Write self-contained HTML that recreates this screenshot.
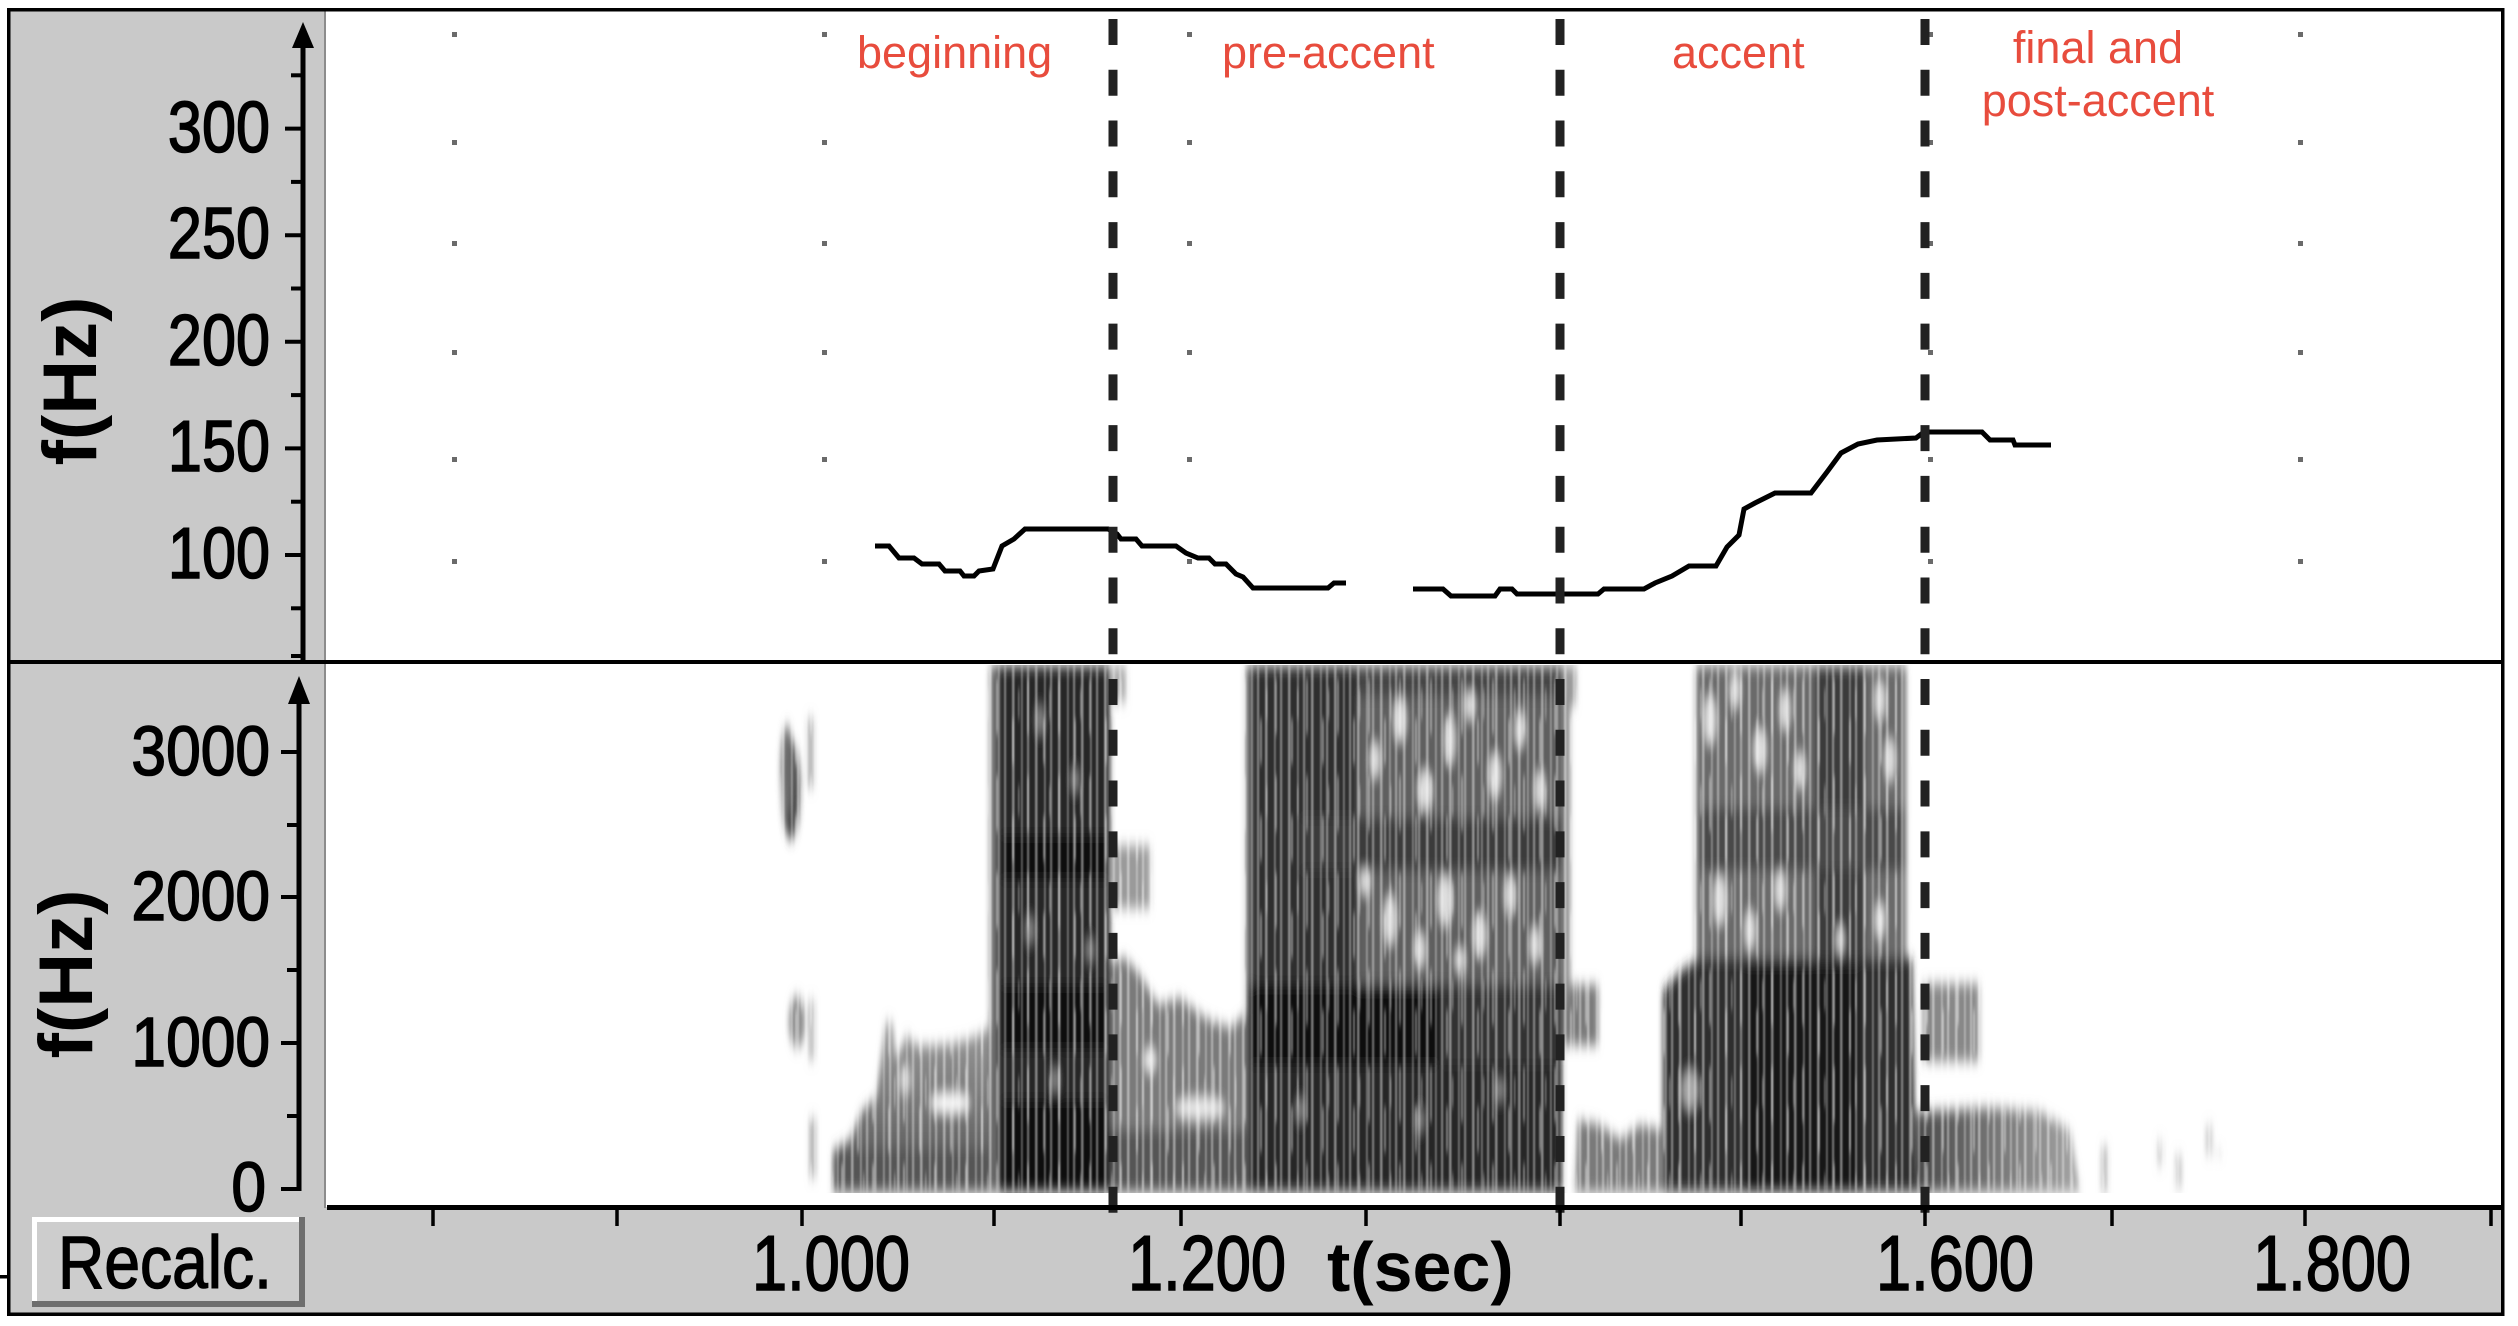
<!DOCTYPE html>
<html>
<head>
<meta charset="utf-8">
<style>
html,body{margin:0;padding:0;background:#fff;}
svg{display:block;}
text{font-family:"Liberation Sans",Arial,sans-serif;}
</style>
</head>
<body>
<svg width="2518" height="1326" viewBox="0 0 2518 1326" xmlns="http://www.w3.org/2000/svg">
<defs>
  <filter id="sb" x="-5%" y="-5%" width="110%" height="110%">
    <feGaussianBlur stdDeviation="3 7"/>
  </filter>
  <filter id="sb2" x="-5%" y="-5%" width="110%" height="110%">
    <feGaussianBlur stdDeviation="0.9 4"/>
  </filter>
  <pattern id="p1" width="23" height="120" patternUnits="userSpaceOnUse">
    <rect x="0" y="0" width="2.5" height="120" fill="#fff" fill-opacity="0.45"/>
    <rect x="9" y="0" width="1.8" height="120" fill="#fff" fill-opacity="0.35"/>
    <rect x="15" y="0" width="2.2" height="120" fill="#fff" fill-opacity="0.4"/>
  </pattern>
  <pattern id="p2" width="31" height="97" patternUnits="userSpaceOnUse">
    <rect x="4" y="0" width="2" height="55" fill="#fff" fill-opacity="0.4"/>
    <rect x="20" y="40" width="2" height="45" fill="#fff" fill-opacity="0.4"/>
    <rect x="26" y="10" width="1.5" height="30" fill="#fff" fill-opacity="0.35"/>
  </pattern>
  <linearGradient id="tailg" x1="0" y1="0" x2="1" y2="0">
    <stop offset="0" stop-color="#4a4a4a"/>
    <stop offset="1" stop-color="#a5a5a5"/>
  </linearGradient>
  <linearGradient id="lowg" x1="0" y1="0" x2="0" y2="1">
    <stop offset="0" stop-color="#9a9a9a"/>
    <stop offset="0.5" stop-color="#777"/>
    <stop offset="1" stop-color="#505050"/>
  </linearGradient>
  <clipPath id="specclip"><rect x="327" y="665" width="2175" height="528"/></clipPath>
</defs>

<!-- background panels -->
<rect x="0" y="0" width="2518" height="1326" fill="#fff"/>
<rect x="8" y="10" width="317" height="1199" fill="#c9c9c9"/>
<rect x="8" y="1207" width="2495" height="108" fill="#c9c9c9"/>
<rect x="324" y="10" width="2" height="1198" fill="#8c8c8c"/>

<!-- grid dots top panel -->
<g fill="#6a6a6a">
  <rect x="452" y="32" width="5" height="5"/><rect x="452" y="140" width="5" height="5"/><rect x="452" y="241" width="5" height="5"/><rect x="452" y="350" width="5" height="5"/><rect x="452" y="457" width="5" height="5"/><rect x="452" y="559" width="5" height="5"/>
  <rect x="822" y="32" width="5" height="5"/><rect x="822" y="140" width="5" height="5"/><rect x="822" y="241" width="5" height="5"/><rect x="822" y="350" width="5" height="5"/><rect x="822" y="457" width="5" height="5"/><rect x="822" y="559" width="5" height="5"/>
  <rect x="1187" y="32" width="5" height="5"/><rect x="1187" y="140" width="5" height="5"/><rect x="1187" y="241" width="5" height="5"/><rect x="1187" y="350" width="5" height="5"/><rect x="1187" y="457" width="5" height="5"/><rect x="1187" y="559" width="5" height="5"/>
  <rect x="1928" y="32" width="5" height="5"/><rect x="1928" y="140" width="5" height="5"/><rect x="1928" y="241" width="5" height="5"/><rect x="1928" y="350" width="5" height="5"/><rect x="1928" y="457" width="5" height="5"/><rect x="1928" y="559" width="5" height="5"/>
  <rect x="2298" y="32" width="5" height="5"/><rect x="2298" y="140" width="5" height="5"/><rect x="2298" y="241" width="5" height="5"/><rect x="2298" y="350" width="5" height="5"/><rect x="2298" y="457" width="5" height="5"/><rect x="2298" y="559" width="5" height="5"/>
</g>

<!-- spectrogram -->
<g clip-path="url(#specclip)">
<g filter="url(#sb)">
  <!-- early blobs -->
  <ellipse cx="791" cy="790" rx="9" ry="50" fill="#4a4a4a"/>
  <ellipse cx="787" cy="770" rx="6" ry="45" fill="#6a6a6a"/>
  <rect x="808" y="718" width="5" height="70" fill="#999"/>
  <ellipse cx="797" cy="1022" rx="8" ry="26" fill="#8a8a8a"/>
  <rect x="809" y="1000" width="5" height="60" fill="#aaa"/>
  <rect x="810" y="1118" width="5" height="60" fill="#999"/>
  <!-- low region -->
  <polygon points="833,1192 834,1150 850,1140 862,1110 876,1098 886,1022 892,1022 896,1060 907,1035 915,1045 930,1046 950,1044 968,1040 983,1033 997,1020 997,1192" fill="url(#lowg)"/>
  <rect x="833" y="1150" width="164" height="42" fill="#555"/>
  <ellipse cx="950" cy="1103" rx="20" ry="9" fill="#fff"/>
  <ellipse cx="905" cy="1080" rx="6" ry="14" fill="#fff" fill-opacity="0.6"/>
  <!-- block A -->
  <rect x="990" y="666" width="10" height="526" fill="#6a6a6a"/>
  <rect x="998" y="666" width="112" height="526" fill="#262626"/>
  <rect x="1000" y="835" width="108" height="45" fill="#0e0e0e"/>
  <rect x="1000" y="985" width="108" height="65" fill="#0a0a0a"/>
  <rect x="1000" y="1100" width="108" height="92" fill="#111"/>
  <g fill="#fff" fill-opacity="0.45">
    <ellipse cx="1040" cy="720" rx="4" ry="15"/>
    <ellipse cx="1075" cy="780" rx="4" ry="12"/>
    <ellipse cx="1030" cy="930" rx="4" ry="14"/>
    <ellipse cx="1090" cy="950" rx="4" ry="12"/>
    <ellipse cx="1055" cy="1080" rx="4" ry="12"/>
  </g>
  <!-- between A and B -->
  <rect x="1112" y="846" width="38" height="62" fill="#9a9a9a"/>
  <rect x="1112" y="666" width="14" height="36" fill="#aaa"/>
  <polygon points="1110,1192 1110,962 1125,958 1140,975 1158,1005 1180,998 1205,1018 1230,1028 1250,1010 1250,1192" fill="#7a7a7a"/>
  <rect x="1110" y="1130" width="140" height="62" fill="#555"/>
  <ellipse cx="1200" cy="1108" rx="25" ry="10" fill="#fff" fill-opacity="0.85"/>
  <ellipse cx="1150" cy="1060" rx="6" ry="12" fill="#eee"/>
  <!-- block B -->
  <rect x="1246" y="666" width="316" height="526" fill="#5e5e5e"/>
  <rect x="1252" y="666" width="105" height="526" fill="#2e2e2e"/>
  <rect x="1357" y="666" width="205" height="30" fill="#444"/>
  <g fill="#fff" fill-opacity="0.8">
    <ellipse cx="1375" cy="760" rx="5" ry="18"/>
    <ellipse cx="1400" cy="720" rx="6" ry="22"/>
    <ellipse cx="1425" cy="790" rx="7" ry="20"/>
    <ellipse cx="1450" cy="740" rx="5" ry="25"/>
    <ellipse cx="1470" cy="705" rx="5" ry="15"/>
    <ellipse cx="1495" cy="775" rx="6" ry="22"/>
    <ellipse cx="1520" cy="730" rx="5" ry="18"/>
    <ellipse cx="1540" cy="790" rx="5" ry="20"/>
    <ellipse cx="1390" cy="920" rx="6" ry="25"/>
    <ellipse cx="1420" cy="950" rx="5" ry="18"/>
    <ellipse cx="1445" cy="900" rx="7" ry="25"/>
    <ellipse cx="1480" cy="935" rx="6" ry="22"/>
    <ellipse cx="1510" cy="895" rx="5" ry="20"/>
    <ellipse cx="1535" cy="945" rx="5" ry="18"/>
    <ellipse cx="1365" cy="880" rx="5" ry="15"/>
    <ellipse cx="1460" cy="960" rx="5" ry="12"/>
  </g>
  <rect x="1300" y="818" width="262" height="52" fill="#3a3a3a"/>
  <rect x="1249" y="985" width="200" height="80" fill="#111"/>
  <rect x="1440" y="985" width="122" height="80" fill="#303030"/>
  <rect x="1249" y="1065" width="313" height="127" fill="#262626"/>
  <g fill="#fff" fill-opacity="0.45">
    <ellipse cx="1300" cy="1110" rx="4" ry="12"/>
    <ellipse cx="1420" cy="1120" rx="4" ry="12"/>
    <ellipse cx="1500" cy="1090" rx="4" ry="12"/>
  </g>
  <rect x="1562" y="985" width="36" height="60" fill="#7a7a7a"/>
  <rect x="1562" y="666" width="14" height="40" fill="#9a9a9a"/>
  <rect x="1562" y="700" width="8" height="300" fill="#888"/>
  <polygon points="1575,1192 1578,1120 1600,1125 1620,1140 1640,1125 1662,1130 1662,1192" fill="#7a7a7a"/>
  <!-- block C -->
  <rect x="1696" y="666" width="210" height="310" fill="#6a6a6a"/>
  <rect x="1815" y="666" width="50" height="310" fill="#3a3a3a"/>
  <g fill="#fff" fill-opacity="0.8">
    <ellipse cx="1710" cy="720" rx="6" ry="25"/>
    <ellipse cx="1735" cy="690" rx="5" ry="18"/>
    <ellipse cx="1760" cy="750" rx="6" ry="22"/>
    <ellipse cx="1785" cy="710" rx="5" ry="20"/>
    <ellipse cx="1800" cy="770" rx="5" ry="18"/>
    <ellipse cx="1880" cy="700" rx="5" ry="20"/>
    <ellipse cx="1890" cy="760" rx="5" ry="22"/>
    <ellipse cx="1720" cy="900" rx="6" ry="25"/>
    <ellipse cx="1750" cy="930" rx="5" ry="20"/>
    <ellipse cx="1780" cy="890" rx="5" ry="20"/>
    <ellipse cx="1880" cy="920" rx="5" ry="18"/>
    <ellipse cx="1840" cy="940" rx="4" ry="15"/>
    <ellipse cx="1705" cy="830" rx="5" ry="15"/>
  </g>
  <rect x="1700" y="808" width="205" height="62" fill="#4a4a4a"/>
  <polygon points="1663,1192 1663,990 1680,972 1700,958 1912,958 1916,1192" fill="#2e2e2e"/>
  <rect x="1745" y="965" width="115" height="227" fill="#171717"/>
  <ellipse cx="1690" cy="1090" rx="8" ry="20" fill="#fff" fill-opacity="0.6"/>
  <rect x="1923" y="984" width="56" height="77" fill="#888"/>
  <polygon points="1916,1192 1916,1112 1990,1108 2040,1112 2070,1130 2080,1192" fill="url(#tailg)"/>
  <!-- small marks -->
  <rect x="2102" y="1146" width="5" height="46" fill="#aaa"/>
  <rect x="2158" y="1140" width="4" height="26" fill="#bbb"/>
  <rect x="2176" y="1155" width="5" height="33" fill="#b5b5b5"/>
  <rect x="2207" y="1125" width="4" height="30" fill="#aaa"/>
  <rect x="2217" y="1150" width="4" height="5" fill="#bbb"/>
</g>
<g filter="url(#sb2)">
  <rect x="780" y="666" width="1450" height="526" fill="url(#p1)"/>
  <rect x="780" y="666" width="1450" height="526" fill="url(#p2)"/>
</g>
</g>

<!-- F0 curve -->
<g fill="none" stroke="#000" stroke-width="5" stroke-linejoin="miter" stroke-linecap="butt">
  <polyline points="875,546 889,546 899,558 914,558 922,564 939,564 945,571 960,571 964,576 974,576 979,571 993,569 1002,546 1014,539 1025,529 1108,529 1117,534 1121,539 1136,539 1142,546 1176,546 1186,553 1198,558 1209,558 1215,564 1226,564 1236,574 1243,577 1253,588 1328,588 1334,583 1346,583"/>
  <polyline points="1413,589 1443,589 1451,596 1495,596 1500,589 1512,589 1517,594 1598,594 1604,589 1644,589 1655,583 1672,576 1689,566 1716,566 1727,547 1739,535 1744,509 1755,503 1775,493 1811,493 1827,472 1841,453 1858,444 1877,440 1916,438 1924,432 1982,432 1990,440 2013,440 2015,445 2051,445"/>
</g>

<!-- red labels -->
<g fill="#e84c3d" font-size="45">
  <text x="857" y="68">beginning</text>
  <text x="1222" y="68">pre-accent</text>
  <text x="1672" y="68">accent</text>
  <text x="2098" y="63" text-anchor="middle">final and</text>
  <text x="2098" y="116" text-anchor="middle">post-accent</text>
</g>

<!-- divider -->
<rect x="8" y="660" width="2495" height="4" fill="#000"/>

<!-- dashed lines -->
<g stroke="#222" stroke-width="9" stroke-dasharray="26 24.77">
  <line x1="1113" y1="19" x2="1113" y2="1217"/>
  <line x1="1560" y1="19" x2="1560" y2="1217"/>
  <line x1="1925" y1="19" x2="1925" y2="1217"/>
</g>

<!-- top y axis -->
<g stroke="#000">
  <line x1="303" y1="30" x2="303" y2="660" stroke-width="5"/>
  <g stroke-width="4">
    <line x1="285" y1="128.6" x2="303" y2="128.6"/>
    <line x1="285" y1="235.2" x2="303" y2="235.2"/>
    <line x1="285" y1="341.8" x2="303" y2="341.8"/>
    <line x1="285" y1="448.4" x2="303" y2="448.4"/>
    <line x1="285" y1="555" x2="303" y2="555"/>
    <line x1="291" y1="75.3" x2="303" y2="75.3"/>
    <line x1="291" y1="181.9" x2="303" y2="181.9"/>
    <line x1="291" y1="288.5" x2="303" y2="288.5"/>
    <line x1="291" y1="395.1" x2="303" y2="395.1"/>
    <line x1="291" y1="501.7" x2="303" y2="501.7"/>
    <line x1="291" y1="608.3" x2="303" y2="608.3"/>
    <line x1="291" y1="656" x2="303" y2="656"/>
  </g>
</g>
<polygon points="292,48 303,22 314,48" fill="#000"/>

<!-- bottom y axis -->
<g stroke="#000">
  <line x1="299" y1="690" x2="299" y2="1191" stroke-width="5"/>
  <g stroke-width="4">
    <line x1="281" y1="752" x2="299" y2="752"/>
    <line x1="281" y1="897" x2="299" y2="897"/>
    <line x1="281" y1="1043" x2="299" y2="1043"/>
    <line x1="281" y1="1189" x2="301" y2="1189"/>
    <line x1="287" y1="825" x2="299" y2="825"/>
    <line x1="287" y1="970" x2="299" y2="970"/>
    <line x1="287" y1="1116" x2="299" y2="1116"/>
  </g>
</g>
<polygon points="288,704 299,676 310,704" fill="#000"/>

<!-- x axis -->
<rect x="327" y="1205" width="2176" height="5" fill="#000"/>
<g stroke="#000" stroke-width="3.5">
  <line x1="433" y1="1208" x2="433" y2="1226"/>
  <line x1="617" y1="1208" x2="617" y2="1226"/>
  <line x1="802" y1="1208" x2="802" y2="1226"/>
  <line x1="994" y1="1208" x2="994" y2="1226"/>
  <line x1="1181" y1="1208" x2="1181" y2="1226"/>
  <line x1="1366" y1="1208" x2="1366" y2="1226"/>
  <line x1="1560" y1="1208" x2="1560" y2="1226"/>
  <line x1="1741" y1="1208" x2="1741" y2="1226"/>
  <line x1="1925" y1="1208" x2="1925" y2="1226"/>
  <line x1="2112" y1="1208" x2="2112" y2="1226"/>
  <line x1="2305" y1="1208" x2="2305" y2="1226"/>
  <line x1="2491" y1="1208" x2="2491" y2="1226"/>
</g>

<!-- tick labels -->
<g fill="#000" stroke="#000" stroke-width="1.6" font-size="72" text-anchor="end">
  <text transform="translate(270,152) scale(0.85,1)">300</text>
  <text transform="translate(270,258) scale(0.85,1)">250</text>
  <text transform="translate(270,365) scale(0.85,1)">200</text>
  <text transform="translate(270,471) scale(0.85,1)">150</text>
  <text transform="translate(270,578) scale(0.85,1)">100</text>
</g>
<g fill="#000" stroke="#000" stroke-width="1.6" font-size="70" text-anchor="end">
  <text transform="translate(270,775) scale(0.89,1)">3000</text>
  <text transform="translate(270,920) scale(0.89,1)">2000</text>
  <text transform="translate(270,1066) scale(0.89,1)">1000</text>
  <text transform="translate(266,1211) scale(0.89,1)">0</text>
</g>
<g fill="#000" stroke="#000" stroke-width="1.6" font-size="78" text-anchor="middle">
  <text transform="translate(831,1290) scale(0.81,1)">1.000</text>
  <text transform="translate(1207,1290) scale(0.81,1)">1.200</text>
  <text transform="translate(1955,1290) scale(0.81,1)">1.600</text>
  <text transform="translate(2332,1290) scale(0.81,1)">1.800</text>
</g>
<text x="1327" y="1291" font-size="70" font-weight="bold" fill="#000">t(sec)</text>
<text transform="translate(96,381) rotate(-90)" font-size="76" font-weight="bold" text-anchor="middle" fill="#000">f(Hz)</text>
<text transform="translate(92,974) rotate(-90)" font-size="76" font-weight="bold" text-anchor="middle" fill="#000">f(Hz)</text>

<!-- Recalc button -->
<rect x="32" y="1217" width="273" height="90" fill="#6e6e6e"/>
<rect x="32" y="1217" width="267" height="84" fill="#fff"/>
<rect x="37" y="1222" width="262" height="79" fill="#cdcdcd"/>
<text transform="translate(58,1288) scale(0.867,1)" font-size="74" fill="#000" stroke="#000" stroke-width="1.4">Recalc.</text>

<!-- outer frame -->
<rect x="8.75" y="9.75" width="2494" height="1304.5" fill="none" stroke="#000" stroke-width="3.5"/>
<rect x="0" y="1275" width="9" height="3.5" fill="#000"/>
</svg>
</body>
</html>
